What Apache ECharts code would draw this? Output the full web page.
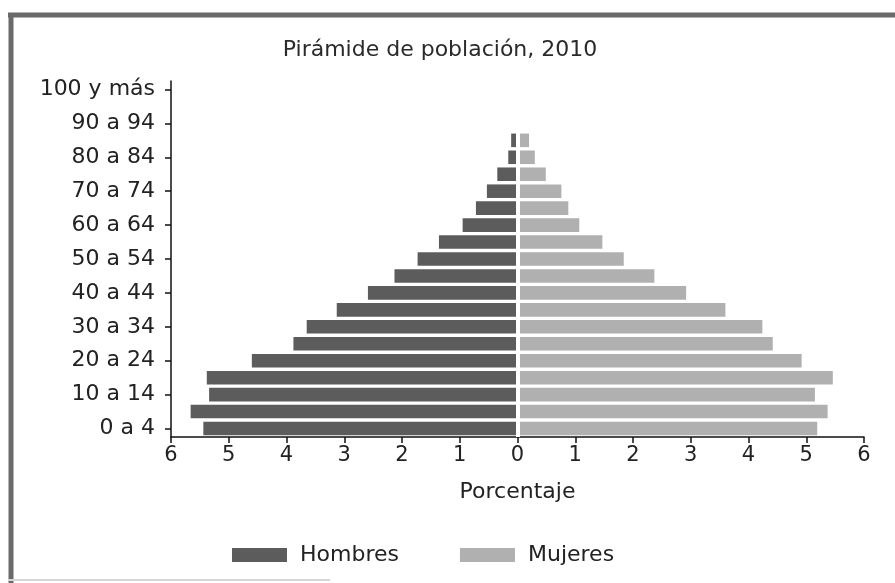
<!DOCTYPE html>
<html>
<head>
<meta charset="utf-8">
<script src="https://cdn.jsdelivr.net/npm/echarts@6/dist/echarts.min.js"></script>
<style>
    html, body {
        margin: 0;
        padding: 0;
        background: #fff;
    }
    #Pyramid {
        width: 895px;
        height: 583px;
    }
</style>
</head>
<body>
<div id="Pyramid"></div>
<script>
// grupos de edad, de abajo hacia arriba
var ageGroups = ['0 a 4', '5 a 9', '10 a 14', '15 a 19', '20 a 24', '25 a 29', '30 a 34', '35 a 39',
    '40 a 44', '45 a 49', '50 a 54', '55 a 59', '60 a 64', '65 a 69', '70 a 74', '75 a 79',
    '80 a 84', '85 a 89', '90 a 94', '95 a 99', '100 y más'];
// porcentajes
var hombres = [5.44, 5.66, 5.34, 5.38, 4.60, 3.88, 3.65, 3.13, 2.59, 2.13, 1.73, 1.36, 0.95, 0.72,
    0.53, 0.35, 0.16, 0.11, 0, 0, 0];
var mujeres = [5.19, 5.37, 5.15, 5.46, 4.92, 4.42, 4.24, 3.60, 2.92, 2.37, 1.84, 1.47, 1.07, 0.88,
    0.76, 0.49, 0.30, 0.20, 0, 0, 0];
var xTicks = [-6, -5, -4, -3, -2, -1, 0, 1, 2, 3, 4, 5, 6];

var font = 'DejaVu Sans';
var textColor = '#222';

var myChart = echarts.init(document.getElementById('Pyramid'));

var option = {
    backgroundColor: '#fff',
    animation: false,
    title: {
        text: 'Pirámide de población, 2010',
        left: 435,
        textAlign: 'center',
        top: 34,
        textStyle: {
            fontFamily: font,
            fontSize: 22,
            fontWeight: 'normal',
            color: '#2a2a2a'
        }
    },
    legend: {
        data: ['Hombres', 'Mujeres'],
        left: 227,
        top: 539,
        itemWidth: 55,
        itemHeight: 14,
        itemGap: 61,
        icon: 'rect',
        textStyle: {
            fontFamily: font,
            fontSize: 22,
            color: textColor,
            padding: [0, 0, 0, 8]
        }
    },
    grid: {
        left: 171,
        right: 31,
        top: 81,
        bottom: 146
    },
    xAxis: {
        type: 'value',
        min: xTicks[0],
        max: xTicks[xTicks.length - 1],
        interval: 1,
        name: 'Porcentaje',
        nameLocation: 'middle',
        nameGap: 44,
        nameTextStyle: {
            fontFamily: font,
            fontSize: 22,
            color: textColor
        },
        axisLine: {
            show: true,
            lineStyle: { color: '#111', width: 1.5 }
        },
        axisTick: {
            show: true,
            length: 6,
            lineStyle: { color: '#111', width: 1.5 }
        },
        axisLabel: {
            margin: 8,
            fontFamily: font,
            fontSize: 21,
            color: textColor,
            formatter: function (val) {
                return Math.abs(val) + '';
            }
        },
        splitLine: { show: false }
    },
    yAxis: {
        type: 'category',
        data: ageGroups,
        axisLine: {
            show: true,
            onZero: false,
            lineStyle: { color: '#111', width: 1.5 }
        },
        axisTick: {
            show: true,
            alignWithLabel: true,
            interval: 1,
            length: 6,
            lineStyle: { color: '#111', width: 1.5 }
        },
        axisLabel: {
            interval: 1,
            margin: 16,
            fontFamily: font,
            fontSize: 22,
            color: textColor
        }
    },
    series: [
        {
            name: 'Hombres',
            type: 'bar',
            stack: 'pob',
            barCategoryGap: '20%',
            itemStyle: { color: '#5c5c5c' },
            data: hombres.map(function (v) { return v === 0 ? null : -v; })
        },
        {
            name: 'Mujeres',
            type: 'bar',
            stack: 'pob',
            barCategoryGap: '20%',
            itemStyle: { color: '#b0b0b0' },
            data: mujeres.map(function (v) { return v === 0 ? null : v; }),
            markLine: {
                silent: true,
                symbol: 'none',
                label: { show: false },
                lineStyle: { color: '#fff', width: 4, type: 'solid' },
                data: [{ xAxis: 0 }]
            }
        }
    ],
    graphic: [
        {
            type: 'line',
            shape: { x1: 8, y1: 15, x2: 895, y2: 15 },
            style: { stroke: '#6a6a6a', lineWidth: 5 }
        },
        {
            type: 'line',
            shape: { x1: 11, y1: 13, x2: 11, y2: 583 },
            style: { stroke: '#6a6a6a', lineWidth: 5 }
        },
        {
            type: 'line',
            shape: { x1: 8, y1: 580, x2: 330, y2: 580 },
            style: { stroke: '#d6d6d6', lineWidth: 2 }
        }
    ]
};

option && myChart.setOption(option);
</script>
</body>
</html>
